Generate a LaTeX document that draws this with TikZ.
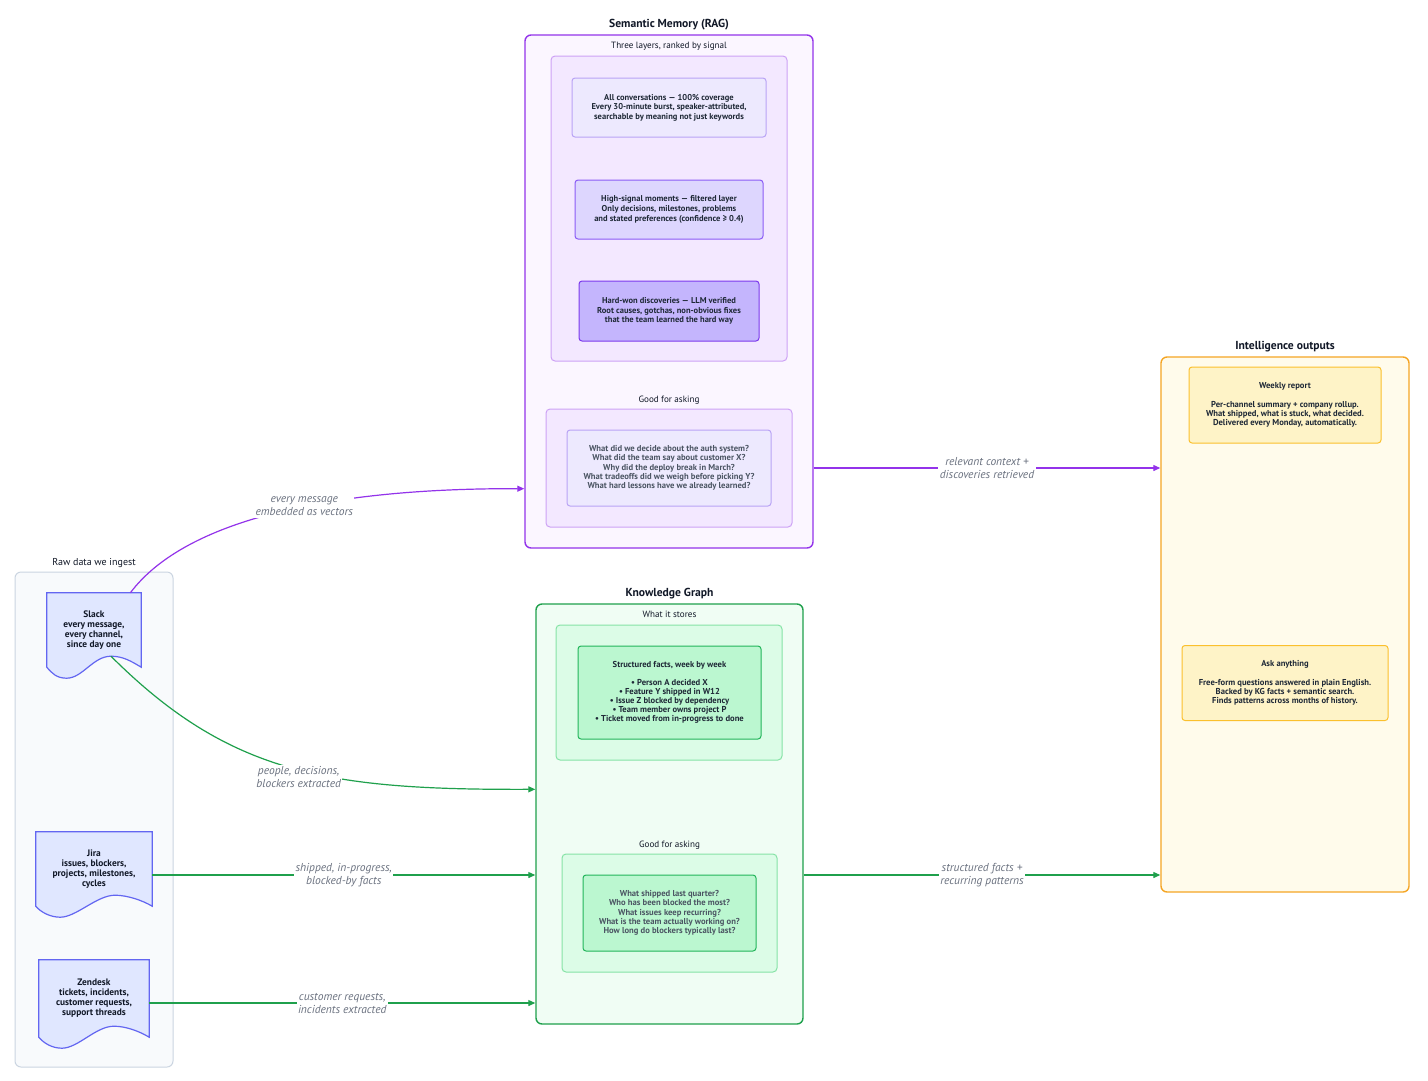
\documentclass[tikz,border=0pt]{standalone}
\usepackage{fontspec}
\setmainfont{PT Sans}
\usetikzlibrary{arrows.meta,positioning,calc}
\definecolor{TitleInk}{HTML}{111827}
\definecolor{CardInk}{HTML}{1F2937}
\definecolor{AskInk}{HTML}{4B5563}
\definecolor{LabelGray}{HTML}{6B7280}
\definecolor{MemPurple}{HTML}{9333EA}
\definecolor{MemBack}{HTML}{FBF6FF}
\definecolor{MemLayer}{HTML}{F3E8FF}
\definecolor{MemLayerEdge}{HTML}{CDA2F5}
\definecolor{MemOne}{HTML}{EDE9FE}
\definecolor{MemOneEdge}{HTML}{B9A3F5}
\definecolor{MemTwo}{HTML}{DDD6FE}
\definecolor{MemTwoEdge}{HTML}{8B5CF6}
\definecolor{MemThree}{HTML}{C4B5FD}
\definecolor{MemThreeEdge}{HTML}{7C3AED}
\definecolor{KgGreen}{HTML}{1FA04C}
\definecolor{KgBack}{HTML}{F0FDF4}
\definecolor{KgLayer}{HTML}{DCFCE7}
\definecolor{KgLayerEdge}{HTML}{86E3A6}
\definecolor{KgCard}{HTML}{BBF7D0}
\definecolor{KgCardEdge}{HTML}{22B55A}
\definecolor{OutAmber}{HTML}{F5A524}
\definecolor{OutBack}{HTML}{FFFBEB}
\definecolor{OutCard}{HTML}{FEF3C7}
\definecolor{OutCardEdge}{HTML}{FBC02D}
\definecolor{RawBack}{HTML}{F8FAFC}
\definecolor{RawEdge}{HTML}{CBD5E1}
\definecolor{DocFill}{HTML}{E0E7FF}
\definecolor{DocEdge}{HTML}{6366F1}

\newcommand{\cardfont}{\fontsize{8.6}{9.2}\selectfont\bfseries}
\newcommand{\docfont}{\fontsize{9.4}{10}\selectfont\bfseries}

\pgfdeclarelayer{back}
\pgfdeclarelayer{mid}
\pgfsetlayers{back,mid,main}

% document sheet with a wavy bottom, drawn round a named node
\newcommand{\docsheet}[1]{%
  \coordinate (#1-p) at ($(#1.south east)!0.32!(#1.south west)+(0,-11)$);
  \coordinate (#1-d) at ($(#1.south east)!0.79!(#1.south west)+(0,11)$);
  \filldraw[docline] (#1.south east) -- (#1.north east) -- (#1.north west) -- (#1.south west)
    .. controls ($(#1.south west)+(5,6)$) and ($(#1-d)+(-10,0)$) .. (#1-d)
    .. controls ($(#1-d)+(16,0)$) and ($(#1-p)+(-18,0)$) .. (#1-p)
    .. controls ($(#1-p)+(12,0)$) and ($(#1.south east)+(-10,-6)$) .. (#1.south east) -- cycle;
}

\tikzset{
  grouptitle/.style={font=\fontsize{11.6}{13}\selectfont\bfseries, text=TitleInk, inner sep=1pt},
  sublabel/.style={font=\fontsize{9.1}{10}\selectfont, text=TitleInk, inner sep=1pt},
  frame/.style={rounded corners=6pt, line width=1.4pt},
  layer/.style={rounded corners=4pt, line width=1pt},
  card/.style={rounded corners=3pt, line width=1pt, align=center, font=\cardfont, text=CardInk, inner sep=2pt},
  askcard/.style={card, text=AskInk},
  docline/.style={draw=DocEdge, fill=DocFill, line width=1.2pt},
  docnode/.style={align=center, font=\docfont, text=TitleInk, inner sep=2pt},
  flowlabel/.style={fill=white, inner sep=1.5pt, align=center,
    font=\fontsize{11.5}{13}\selectfont\itshape, text=LabelGray},
  memflow/.style={-{Triangle[length=7pt,width=6pt]}, MemPurple, line width=1.2pt},
  kgflow/.style={-{Triangle[length=7pt,width=6pt]}, KgGreen, line width=1.2pt},
}

\begin{document}
\begin{tikzpicture}[x=1pt,y=-1pt]
  \useasboundingbox (0,0) rectangle (1428,1080);
  \begin{pgfonlayer}{back}
    \fill[white] (0,0) rectangle (1428,1080);
  \end{pgfonlayer}

  % semantic memory
  \node[frame, draw=MemPurple, fill=MemBack, minimum width=288, minimum height=513] (sem) at (669,291.5) {};
  \node[grouptitle, above=3pt of sem] {Semantic Memory (RAG)};
  \node[sublabel, below=7pt of sem.north] {Three layers, ranked by signal};
  \node[layer, draw=MemLayerEdge, fill=MemLayer, minimum width=236, minimum height=305] (layers) at (669,208.5) {};
  \node[card, draw=MemOneEdge, fill=MemOne, minimum width=194, minimum height=59, font=\fontsize{8.5}{9.6}\selectfont\bfseries] (allconv) at (669,107.5)
    {All conversations — 100\% coverage\\Every 30-minute burst, speaker-attributed,\\searchable by meaning not just keywords};
  \node[card, draw=MemTwoEdge, fill=MemTwo, minimum width=188, minimum height=59, font=\fontsize{8.5}{9.6}\selectfont\bfseries] (highsig) at (669,209.5)
    {High-signal moments — filtered layer\\Only decisions, milestones, problems\\and stated preferences (confidence ≥ 0.4)};
  \node[card, draw=MemThreeEdge, fill=MemThree, minimum width=180, minimum height=60, font=\fontsize{8.5}{9.6}\selectfont\bfseries] (hardwon) at (669,311)
    {Hard-won discoveries — LLM verified\\Root causes, gotchas, non-obvious fixes\\that the team learned the hard way};
  \node[layer, draw=MemLayerEdge, fill=MemLayer, minimum width=246, minimum height=118] (semask) at (669,468) {};
  \node[sublabel, above=3pt of semask] {Good for asking};
  \node[askcard, draw=MemOneEdge, fill=MemOne, minimum width=204, minimum height=76] (semq) at (669,468)
    {What did we decide about the auth system?\\What did the team say about customer X?\\Why did the deploy break in March?\\What tradeoffs did we weigh before picking Y?\\What hard lessons have we already learned?};

  % knowledge graph
  \node[frame, draw=KgGreen, fill=KgBack, minimum width=267, minimum height=420] (kg) at (669.5,814) {};
  \node[grouptitle, above=3pt of kg] {Knowledge Graph};
  \node[sublabel, below=7pt of kg.north] {What it stores};
  \node[layer, draw=KgLayerEdge, fill=KgLayer, minimum width=226, minimum height=135] (stores) at (669,692.5) {};
  \node[card, draw=KgCardEdge, fill=KgCard, minimum width=183, minimum height=93, font=\fontsize{8.6}{8.9}\selectfont\bfseries] (facts) at (669.5,692.5)
    {Structured facts, week by week\\[9pt]• Person A decided X\\• Feature Y shipped in W12\\• Issue Z blocked by dependency\\• Team member owns project P\\• Ticket moved from in-progress to done};
  \node[layer, draw=KgLayerEdge, fill=KgLayer, minimum width=215, minimum height=118] (kgask) at (669.5,913) {};
  \node[sublabel, above=3pt of kgask] {Good for asking};
  \node[askcard, draw=KgCardEdge, fill=KgCard, minimum width=173, minimum height=76] (kgq) at (669.5,913)
    {What shipped last quarter?\\Who has been blocked the most?\\What issues keep recurring?\\What is the team actually working on?\\How long do blockers typically last?};

  % intelligence outputs
  \node[frame, draw=OutAmber, fill=OutBack, minimum width=248, minimum height=535] (out) at (1285,624.5) {};
  \node[grouptitle, above=3pt of out] {Intelligence outputs};
  \node[card, draw=OutCardEdge, fill=OutCard, minimum width=192, minimum height=76, font=\fontsize{8.6}{8.9}\selectfont\bfseries] (weekly) at (1285,405)
    {Weekly report\\[10pt]Per-channel summary + company rollup.\\What shipped, what is stuck, what decided.\\Delivered every Monday, automatically.};
  \node[card, draw=OutCardEdge, fill=OutCard, minimum width=206, minimum height=75, font=\fontsize{8.6}{8.9}\selectfont\bfseries] (askany) at (1285,683)
    {Ask anything\\[10pt]Free-form questions answered in plain English.\\Backed by KG facts + semantic search.\\Finds patterns across months of history.};

  % raw data
  \begin{pgfonlayer}{back}
    \node[frame, line width=1pt, draw=RawEdge, fill=RawBack, minimum width=158, minimum height=495] (raw) at (94,819.5) {};
  \end{pgfonlayer}
  \node[sublabel, font=\fontsize{10}{11}\selectfont, above=3pt of raw] {Raw data we ingest};
  \node[docnode, minimum width=94, minimum height=74] (slack) at (94,630)
    {Slack\\every message,\\every channel,\\since day one};
  \node[docnode, minimum width=116, minimum height=74] (jira) at (94,869)
    {Jira\\issues, blockers,\\projects, milestones,\\cycles};
  \node[docnode, minimum width=110, minimum height=77] (zendesk) at (94,998.5)
    {Zendesk\\tickets, incidents,\\customer requests,\\support threads};
  \begin{pgfonlayer}{mid}
    \docsheet{slack}
    \docsheet{jira}
    \docsheet{zendesk}
  \end{pgfonlayer}

  % flows
  \draw[memflow] ($(slack.north)!0.77!(slack.north east)$) .. controls (185,520) and (330,488) .. ($(sem.south west)+(0,-60)$)
    node[flowlabel, pos=0.57] {every message\\embedded as vectors};
  \draw[kgflow] (slack-p) .. controls (230,775) and (330,790) .. ($(kg.north west)+(0,186)$)
    node[flowlabel, pos=0.52, yshift=-7pt] {people, decisions,\\blockers extracted};
  \draw[kgflow] ($(jira.east)+(0,6)$) coordinate (jiraout) -- (jiraout -| kg.west)
    node[flowlabel, midway] {shipped, in-progress,\\blocked-by facts};
  \draw[kgflow] ($(zendesk.east)+(0,4.5)$) coordinate (zenout) -- (zenout -| kg.west)
    node[flowlabel, midway] {customer requests,\\incidents extracted};
  \draw[memflow] (semask.east -| sem.east) -- (semask.east -| out.west)
    node[flowlabel, midway] {relevant context +\\discoveries retrieved};
  \draw[kgflow] (jiraout -| kg.east) -- (jiraout -| out.west)
    node[flowlabel, midway] {structured facts +\\recurring patterns};
\end{tikzpicture}
\end{document}
